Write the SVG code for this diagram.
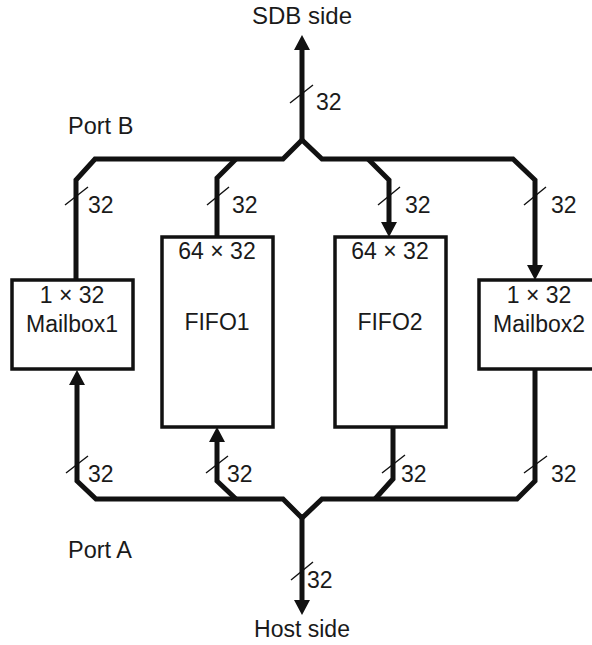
<svg xmlns="http://www.w3.org/2000/svg" width="592" height="645" viewBox="0 0 592 645">
<style>
text{font-family:"Liberation Sans",Arial,sans-serif;font-size:23px;fill:#1a1a1a}
.mid{text-anchor:middle}
.bus{fill:none;stroke:#111;stroke-width:5;stroke-linejoin:miter;stroke-linecap:butt}
.box{fill:#fff;stroke:#111;stroke-width:3.5}
.tick{stroke:#111;stroke-width:1.4;fill:none}
</style>
<defs>
<marker id="ah" markerUnits="userSpaceOnUse" markerWidth="16" markerHeight="16" viewBox="0 0 16 16" refX="0" refY="8" orient="auto">
<path d="M0,0 L15,8 L0,16 z" fill="#111"/>
</marker>
</defs>
<rect width="592" height="645" fill="#fff"/>
<g id="connectors">
<path class="bus" d="M302,142 V50" marker-end="url(#ah)"/>
<path class="bus" d="M76,281 V180 L95,159 H283 L302,140 L322,159 H513 L535,180 V265" marker-end="url(#ah)"/>
<path class="bus" d="M236,159 L217,178 V238"/>
<path class="bus" d="M368,159 L389,180 V222" marker-end="url(#ah)"/>
<path class="bus" d="M535,369 V481 L517,499 H322 L302,518 L283,499 H96 L77,481 V385" marker-end="url(#ah)"/>
<path class="bus" d="M236,499 L217,481 V442" marker-end="url(#ah)"/>
<path class="bus" d="M393,426 V479 L375,499"/>
<path class="bus" d="M302,516 V600" marker-end="url(#ah)"/>
<path class="tick" d="M290,103 L313,85 M65,205 L88,187 M207,205 L229,187 M378,205 L400,187 M524,205 L546,187 M66,473 L88,456 M206,473 L228,456 M382,473 L405,455 M524,473 L547,456 M291,580 L313,562"/>
<text x="316" y="110">32</text>
<text x="88" y="213">32</text>
<text x="232" y="213">32</text>
<text x="405" y="213">32</text>
<text x="551" y="213">32</text>
<text x="88" y="482">32</text>
<text x="227" y="482">32</text>
<text x="401" y="482">32</text>
<text x="551" y="482">32</text>
<text x="307" y="588">32</text>
</g>
<g id="labels">
<text class="mid" x="302" y="24" style="font-size:24px">SDB side</text>
<text x="68" y="134" style="font-size:23.5px">Port B</text>
<text x="68" y="558" style="font-size:23.5px">Port A</text>
<text class="mid" x="302" y="637">Host side</text>
</g>
<g id="mailbox1">
<rect class="box" x="12" y="280" width="121" height="89"/>
<text class="mid" x="72" y="303">1 × 32</text>
<text class="mid" x="72" y="332">Mailbox1</text>
</g>
<g id="fifo1">
<rect class="box" x="162" y="237" width="111" height="190"/>
<text class="mid" x="217" y="259">64 × 32</text>
<text class="mid" x="217" y="330">FIFO1</text>
</g>
<g id="fifo2">
<rect class="box" x="335" y="237" width="111" height="190"/>
<text class="mid" x="390" y="259">64 × 32</text>
<text class="mid" x="390" y="330">FIFO2</text>
</g>
<g id="mailbox2">
<rect class="box" x="479" y="280" width="125" height="89"/>
<text class="mid" x="539" y="303">1 × 32</text>
<text class="mid" x="539" y="332">Mailbox2</text>
</g>
</svg>
